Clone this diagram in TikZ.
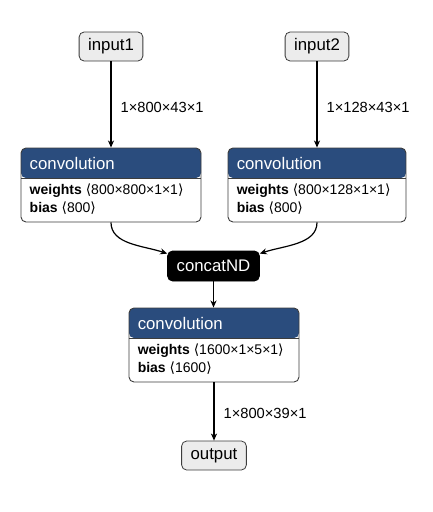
\documentclass[tikz,border=0pt]{standalone}
\usepackage{fontspec}
\setmainfont{Liberation Sans}
\newfontfamily\symfont{DejaVu Sans}
\usetikzlibrary{arrows.meta,calc}
\definecolor{layerblue}{RGB}{42,76,125}
\definecolor{termfill}{RGB}{236,236,236}
\definecolor{borderc}{RGB}{60,60,60}
\newcommand{\shp}[1]{{\symfont ⟨}#1{\symfont ⟩}}
\begin{document}
\begin{tikzpicture}[x=1pt,y=-1pt,
  term/.style={draw=borderc, fill=termfill, rounded corners=5pt, line width=0.8pt,
    minimum height=29pt, inner xsep=9pt, inner ysep=0pt,
    font=\fontsize{16.8}{19}\selectfont},
  blackterm/.style={term, fill=black, draw=black, text=white},
  convbox/.style={draw=borderc, fill=white, rounded corners=5pt, line width=0.9pt,
    minimum height=74pt, inner sep=0pt,
    path picture={\fill[layerblue] (path picture bounding box.north west) rectangle ([yshift=-30pt]path picture bounding box.north east);
      \draw[borderc, line width=0.8pt] ([yshift=-30pt]path picture bounding box.north west) -- ([yshift=-30pt]path picture bounding box.north east);}},
  hdr/.style={inner sep=0pt, text=white, font=\fontsize{16.8}{19}\selectfont},
  bodytxt/.style={inner sep=0pt, font=\fontsize{14}{16}\selectfont},
  elbl/.style={inner sep=0pt, font=\fontsize{14.7}{17}\selectfont},
  edge/.style={draw=black, line width=1.2pt, -{Stealth[length=7pt,width=6pt,inset=2pt]}}
]
\useasboundingbox (0,0) rectangle (432,512);

% terminal nodes
\node[term] (in1) at (111,46.5) {input1};
\node[term] (in2) at (317,46.5) {input2};
\node[blackterm, minimum height=30pt] (cc) at (213.5,266) {concatND};
\node[term] (out) at (214,455.5) {output};

% convolution 1
\node[convbox, minimum width=180pt] (c1) at (111,185) {};
\node[hdr, anchor=base west] (c1t) at ($(c1.north west)+(9,22)$) {convolution};
\node[bodytxt, anchor=base west] (c1w) at ($(c1.north west)+(9,47)$) {\textbf{weights} \shp{800×800×1×1}};
\node[bodytxt, anchor=base west] (c1b) at ($(c1.north west)+(9,64.5)$) {\textbf{bias} \shp{800}};

% convolution 2
\node[convbox, minimum width=178pt] (c2) at (317,185) {};
\node[hdr, anchor=base west] (c2t) at ($(c2.north west)+(9,22)$) {convolution};
\node[bodytxt, anchor=base west] (c2w) at ($(c2.north west)+(9,47)$) {\textbf{weights} \shp{800×128×1×1}};
\node[bodytxt, anchor=base west] (c2b) at ($(c2.north west)+(9,64.5)$) {\textbf{bias} \shp{800}};

% convolution 3
\node[convbox, minimum width=170pt] (c3) at (214,345) {};
\node[hdr, anchor=base west] (c3t) at ($(c3.north west)+(9,22)$) {convolution};
\node[bodytxt, anchor=base west] (c3w) at ($(c3.north west)+(9,47)$) {\textbf{weights} \shp{1600×1×5×1}};
\node[bodytxt, anchor=base west] (c3b) at ($(c3.north west)+(9,64.5)$) {\textbf{bias} \shp{1600}};

% edges
\draw[edge] (in1.south) -- node[elbl, anchor=west, xshift=9pt, pos=0.53] (l1) {1×800×43×1} (in1.south |- c1.north);
\draw[edge] (in2.south) -- node[elbl, anchor=west, xshift=9pt, pos=0.53] (l2) {1×128×43×1} (in2.south |- c2.north);
\draw[edge] (c1.south) .. controls ($(c1.south)+(0,22)$) and ($(cc.north west)+(-24,-5)$) .. ($(cc.north west)+(0,3)$);
\draw[edge] (c2.south) .. controls ($(c2.south)+(0,22)$) and ($(cc.north east)+(24,-5)$) .. ($(cc.north east)+(0,3)$);
\draw[edge] (cc.south) -- (cc.south |- c3.north);
\draw[edge] (c3.south) -- node[elbl, anchor=west, xshift=9pt, pos=0.53] (l3) {1×800×39×1} (c3.south |- out.north);
\end{tikzpicture}
\end{document}
